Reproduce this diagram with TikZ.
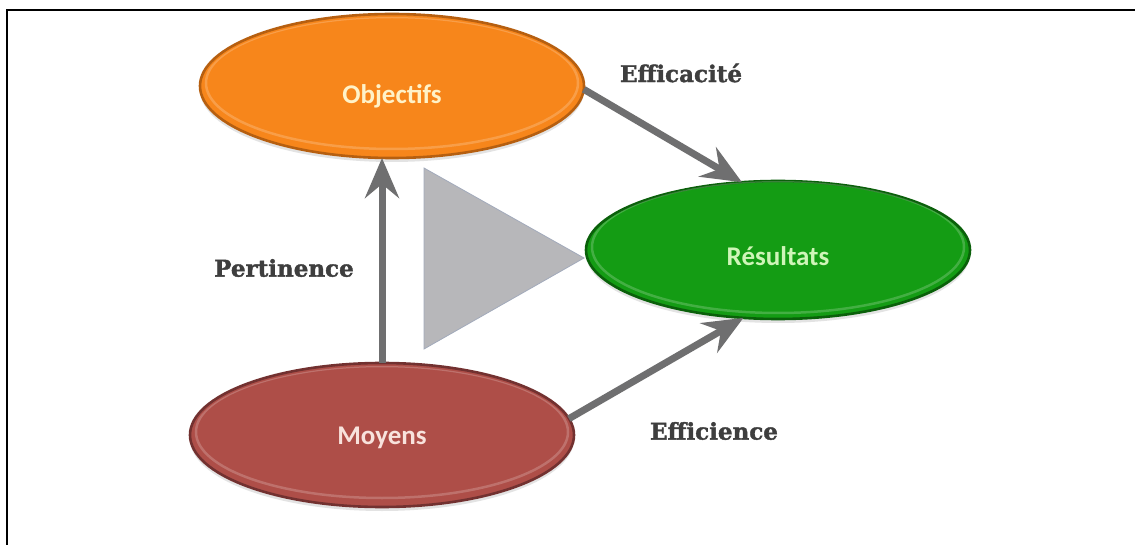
\documentclass[tikz,border=0pt]{standalone}
\usepackage{fontspec}
\setmainfont{Carlito}
\newfontfamily\labelfont{DejaVu Serif}[BoldFeatures={FakeBold=1.6}]
\usetikzlibrary{shapes.geometric,arrows.meta,shadows}

\definecolor{objfill}{HTML}{F7861B}
\definecolor{objrim}{HTML}{B65F10}
\definecolor{objtext}{HTML}{FFF2C8}
\definecolor{resfill}{HTML}{149C14}
\definecolor{resrim}{HTML}{0A600A}
\definecolor{restext}{HTML}{CFF5B8}
\definecolor{moyfill}{HTML}{AE4E48}
\definecolor{moyrim}{HTML}{723130}
\definecolor{moytext}{HTML}{F8E2DC}
\definecolor{arrowgray}{HTML}{6F6F70}
\definecolor{trifill}{HTML}{B7B7BA}
\definecolor{triedge}{HTML}{A2AABB}
\definecolor{labelgray}{HTML}{3E3E3E}

\tikzset{
  bubble/.style={ellipse, inner sep=0pt, outer sep=0pt,
    minimum width=384pt, minimum height=144pt, line width=2.6pt,
    drop shadow={opacity=0.22, shadow xshift=0pt, shadow yshift=-4pt}},
  caption/.style={font=\fontsize{27}{27}\selectfont\bfseries, inner sep=0pt},
  flow/.style={draw=arrowgray, line width=7pt,
    -{Stealth[length=40pt, width=34pt, inset=14pt]}},
  tag/.style={font=\labelfont\fontsize{23}{23}\selectfont\bfseries,
    text=labelgray, inner sep=0pt}
}

\begin{document}
\begin{tikzpicture}[x=1pt, y=-1pt]
  \useasboundingbox (0,0) rectangle (1135,545);
  \fill[white] (0,0) rectangle (1135,545);

  % frame lines
  \draw[line width=2.6pt] (7,545) -- (7,10) -- (1135,10);

  % central wedge
  \draw[fill=trifill, draw=triedge, line width=0.8pt]
    (424,168) -- (584,258) -- (424,349) -- cycle;

  % the three bubbles
  \node[bubble, fill=objfill, draw=objrim] (obj) at (392,86) {};
  \node[bubble, fill=resfill, draw=resrim, minimum height=138pt] (res) at (778,250) {};
  \node[bubble, fill=moyfill, draw=moyrim] (moy) at (382,435) {};

  % soft highlight along the upper rim of each bubble
  \foreach \n in {obj, res, moy} {
    \begin{scope}
      \clip (\n.center) ellipse [x radius=189pt, y radius=69pt];
      \draw[white, opacity=0.2, line width=2.5pt]
        ([yshift=3pt]\n.center) ellipse [x radius=186pt, y radius=66pt];
    \end{scope}
  }

  % bubble captions
  \node[caption, text=objtext] (objt) at ([yshift=-10pt]obj.center) {Objectifs};
  \node[caption, text=restext] (rest) at ([yshift=-6pt]res.center) {Résultats};
  \node[caption, text=moytext] (moyt) at ([yshift=-3pt]moy.center) {Moyens};

  % connectors
  \draw[flow] (moy.north) -- (moy.north |- obj.south);
  \draw[flow] (obj.-1) -- (res.118);
  \draw[flow] (moy.5) -- (res.-117);

  % labels
  \node[tag] (eff) at (681,73) {Efficacité};
  \node[tag] (per) at (284,268) {Pertinence};
  \node[tag] (efi) at (714,431) {Efficience};
\end{tikzpicture}
\end{document}
